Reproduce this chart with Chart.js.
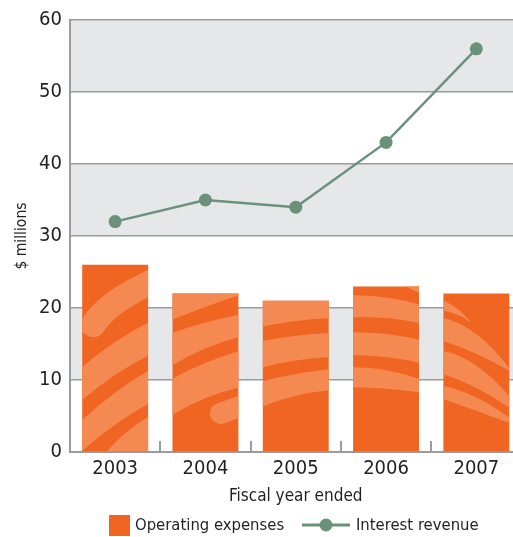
<!DOCTYPE html>
<html>
<head>
<meta charset="utf-8">
<script src="https://cdn.jsdelivr.net/npm/chart.js@4/dist/chart.umd.min.js"></script>
<style>
  html, body { margin: 0; padding: 0; background: #fff; overflow: hidden; }
  #wrap { width: 528px; height: 537px; }
</style>
</head>
<body>
<div id="wrap"><canvas id="chart" width="528" height="537"></canvas></div>
<script>
// Fiscal years and the two series, in $ millions
const years = ['2003', '2004', '2005', '2006', '2007'];
const operatingExpenses = [26, 22, 21, 23, 22];
const interestRevenue = [32, 35, 34, 43, 56];
const yTickValues = [0, 10, 20, 30, 40, 50, 60];
const shadedBands = [[10, 20], [30, 40], [50, 60]];

const FONT = '"DejaVu Sans Condensed", "Liberation Sans Narrow", sans-serif';
const TEXT = '#231F20';
const GRID = '#9B9B9E';
const BAND = '#E6E7E9';
const ORANGE = '#F06522';
const ORANGE_LIGHT = '#F48A52';
const GREEN = '#6A917A';

// Decorative light streaks inside each bar, in a 66px-wide local frame
// (x from the bar's left edge, y from its top). Fill shapes: top edge
// [start, control, end], then bottom edge back [start, control, end].
// Stroke shapes: centre curve with a width and rounded caps.
const barStreaks = [
  [
    { stroke: [[11, 60], [25.5, 37], [72, 16]], w: 25 },
    { fill: [[-2, 104], [33, 74], [68, 57], [68, 90], [33, 107], [-2, 137]] },
    { fill: [[-2, 157], [33, 125], [68, 105], [68, 138], [33, 157], [-2, 188]] },
    { fill: [[20, 192], [42, 166], [68, 151], [68, 192], [58, 192], [48, 192]] }
  ],
  [
    { fill: [[-5, -10], [35, -10], [72, -10], [72, 0], [35, 12], [-5, 28]] },
    { fill: [[-5, 41], [30, 28], [72, 20], [72, 42], [30, 52], [-5, 75]] },
    { fill: [[-5, 88], [30, 68], [72, 56], [72, 93], [35, 100], [-5, 124]] },
    { stroke: [[48, 120], [60, 116], [75, 110]], w: 21 }
  ],
  [
    { fill: [[-5, -10], [35, -10], [72, -10], [72, 17], [30, 19], [-5, 27]] },
    { fill: [[-5, 41], [30, 34], [72, 32], [72, 56], [30, 58], [-5, 68]] },
    { fill: [[-5, 82], [30, 72], [72, 68], [72, 89], [30, 92], [-5, 108]] }
  ],
  [
    { fill: [[40, -5], [56, -5], [72, -5], [72, 10], [60, 2], [42, -3]] },
    { fill: [[-5, 9], [35, 8], [72, 20], [72, 38], [35, 29], [-5, 31]] },
    { fill: [[-5, 46], [35, 45], [72, 55], [72, 78], [35, 68], [-5, 69]] },
    { fill: [[-5, 81], [35, 80], [72, 95], [72, 107], [35, 101], [-5, 101]] }
  ],
  [
    { fill: [[-2, 6], [14, 12], [28, 29], [28, 29], [14, 19], [-2, 17]] },
    { fill: [[-2, 24], [33, 30.5], [67, 76], [67, 78], [33, 58], [-2, 47]] },
    { fill: [[-2, 57], [33, 63.5], [67, 104], [67, 115], [33, 91], [-2, 80]] },
    { fill: [[-2, 92], [33, 99.5], [67, 125], [67, 130], [33, 117], [-2, 105]] }
  ]
];

// Alternating grey bands behind the plot
const bandPlugin = {
  id: 'bands',
  beforeDraw(chart) {
    const { ctx, chartArea, scales } = chart;
    ctx.save();
    ctx.fillStyle = BAND;
    shadedBands.forEach(([lo, hi]) => {
      const yTop = scales.y.getPixelForValue(hi);
      const yBot = scales.y.getPixelForValue(lo);
      ctx.fillRect(chartArea.left, yTop, chartArea.right - chartArea.left, yBot - yTop);
    });
    ctx.restore();
  }
};

// Light streak texture clipped to every bar
const streakPlugin = {
  id: 'streaks',
  afterDatasetDraw(chart, args) {
    const meta = chart.getDatasetMeta(args.index);
    if (meta.type !== 'bar') return;
    const { ctx } = chart;
    meta.data.forEach((bar, i) => {
      const { x, y, base, width } = bar.getProps(['x', 'y', 'base', 'width'], true);
      const left = x - width / 2;
      const s = width / 66;
      const P = p => [left + p[0] * s, y + p[1] * s];
      ctx.save();
      ctx.beginPath();
      ctx.rect(left, y, width, base - y);
      ctx.clip();
      ctx.fillStyle = ORANGE_LIGHT;
      ctx.strokeStyle = ORANGE_LIGHT;
      (barStreaks[i] || []).forEach(shape => {
        ctx.beginPath();
        if (shape.fill) {
          const p = shape.fill.map(P);
          ctx.moveTo(...p[0]);
          ctx.quadraticCurveTo(...p[1], ...p[2]);
          ctx.lineTo(...p[3]);
          ctx.quadraticCurveTo(...p[4], ...p[5]);
          ctx.closePath();
          ctx.fill();
        } else {
          const p = shape.stroke.map(P);
          ctx.lineWidth = shape.w * s;
          ctx.lineCap = 'round';
          ctx.moveTo(...p[0]);
          ctx.quadraticCurveTo(...p[1], ...p[2]);
          ctx.stroke();
        }
      });
      ctx.restore();
    });
  }
};

// Short upward ticks between categories, plus the legend row
const extrasPlugin = {
  id: 'extras',
  afterDraw(chart) {
    const { ctx, chartArea, scales } = chart;
    const xs = scales.x;
    ctx.save();
    ctx.strokeStyle = GRID;
    ctx.lineWidth = 2;
    for (let i = 1; i < years.length; i++) {
      const bx = Math.round((xs.getPixelForValue(i - 1) + xs.getPixelForValue(i)) / 2);
      ctx.beginPath();
      ctx.moveTo(bx, chartArea.bottom);
      ctx.lineTo(bx, chartArea.bottom - 11);
      ctx.stroke();
    }

    // legend
    const ly = 526;
    ctx.font = '16.5px ' + FONT;
    ctx.textBaseline = 'middle';
    ctx.textAlign = 'left';
    ctx.fillStyle = ORANGE;
    ctx.fillRect(109, 515, 21, 21);
    ctx.fillStyle = TEXT;
    ctx.fillText(chart.data.datasets[1].label, 135, ly);

    ctx.strokeStyle = GREEN;
    ctx.lineWidth = 3;
    ctx.beginPath();
    ctx.moveTo(302, 525);
    ctx.lineTo(350, 525);
    ctx.stroke();
    ctx.fillStyle = GREEN;
    ctx.beginPath();
    ctx.arc(326, 525, 6.5, 0, Math.PI * 2);
    ctx.fill();
    ctx.fillStyle = TEXT;
    ctx.fillText(chart.data.datasets[0].label, 356, ly);
    ctx.restore();
  }
};

new Chart(document.getElementById('chart'), {
  data: {
    labels: years,
    datasets: [
      {
        type: 'line',
        label: 'Interest revenue',
        data: interestRevenue,
        borderColor: GREEN,
        backgroundColor: GREEN,
        borderWidth: 2.5,
        pointRadius: 6.5,
        pointHoverRadius: 6.5,
        pointBorderWidth: 0,
        tension: 0,
        order: 0
      },
      {
        type: 'bar',
        label: 'Operating expenses',
        data: operatingExpenses,
        backgroundColor: ORANGE,
        borderWidth: 0,
        barPercentage: 0.73,
        categoryPercentage: 1,
        order: 1
      }
    ]
  },
  options: {
    responsive: false,
    animation: false,
    events: [],
    layout: { padding: { top: 18, right: 0, bottom: 30, left: 0 } },
    plugins: { legend: { display: false }, tooltip: { enabled: false } },
    scales: {
      x: {
        offset: true,
        afterFit(scale) {
          scale.height = 55;
          scale.paddingLeft = 0;
          scale.paddingRight = 0;
        },
        grid: { display: false, drawTicks: false },
        border: { display: true, color: GRID, width: 2 },
        ticks: { color: TEXT, font: { family: FONT, size: 20 }, padding: 5 },
        title: {
          display: true,
          text: 'Fiscal year ended',
          color: TEXT,
          font: { family: FONT, size: 17 },
          padding: { top: 0, bottom: 0 }
        }
      },
      y: {
        min: 0,
        max: 60,
        afterBuildTicks(scale) { scale.ticks = yTickValues.map(v => ({ value: v })); },
        afterFit(scale) { scale.width = 70; },
        grid: { color: GRID, lineWidth: 1.6, drawTicks: false },
        border: { display: true, color: GRID, width: 2 },
        ticks: { color: TEXT, font: { family: FONT, size: 20 }, padding: 8 },
        title: {
          display: true,
          text: '$ millions',
          color: TEXT,
          font: { family: FONT, size: 15.5 },
          padding: { top: 13, bottom: 0 }
        }
      }
    }
  },
  plugins: [bandPlugin, streakPlugin, extrasPlugin]
});
</script>
</body>
</html>
